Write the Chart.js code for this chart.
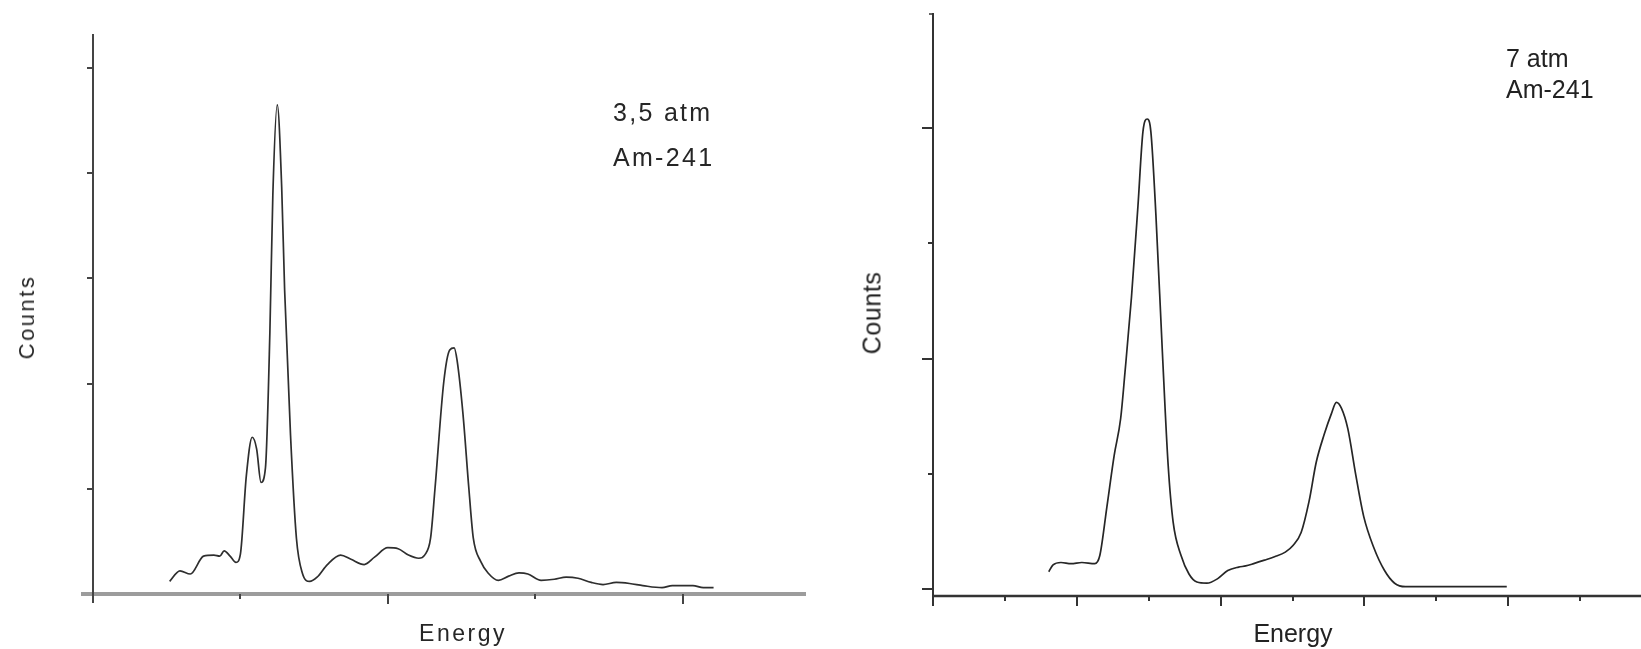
<!DOCTYPE html>
<html>
<head>
<meta charset="utf-8">
<script src="https://cdn.jsdelivr.net/npm/chart.js@4"></script>
<style>
    html, body { margin: 0; padding: 0; background: #fff; }
    #wrap { position: relative; width: 1641px; height: 649px; overflow: hidden; }
    canvas { position: absolute; top: 0; }
    .lbl { position: absolute; font-family: "Liberation Sans", Arial, sans-serif; line-height: 1; white-space: nowrap; color: #222; }
    .left { font-size: 25px; letter-spacing: 2.3px; color: #262626; }
    .right { font-size: 25px; color: #222; }
    .rot { transform: translate(-50%, -50%) rotate(-90deg); }
    .ctr { transform: translateX(-50%); }
</style>
</head>
<body>
<div id="wrap">
    <canvas id="leftChart" width="820" height="649" style="left:0"></canvas>
    <canvas id="rightChart" width="821" height="649" style="left:820px"></canvas>

    <div class="lbl left" style="left:613px; top:100px">3,5 atm</div>
    <div class="lbl left" style="left:613px; top:145px">Am-241</div>
    <div class="lbl left rot" style="left:27px; top:317px; font-size:22px; letter-spacing:2.5px">Counts</div>
    <div class="lbl left ctr" style="left:463px; top:622px; font-size:23px; letter-spacing:2.5px">Energy</div>

    <div class="lbl right" style="left:1506px; top:46px">7 atm</div>
    <div class="lbl right" style="left:1506px; top:77px">Am-241</div>
    <div class="lbl right rot" style="left:872px; top:313px; letter-spacing:0.6px">Counts</div>
    <div class="lbl right ctr" style="left:1293px; top:621px">Energy</div>
</div>

<script>
// 3,5 atm spectrum (energy in x-tick units, counts in y-tick units)
const leftEnergy = [0.52, 0.59, 0.66, 0.75, 0.82, 0.86, 0.89, 0.93, 0.97, 1.0,
    1.04, 1.08, 1.11, 1.14, 1.17, 1.2, 1.22, 1.25, 1.28, 1.3,
    1.34, 1.38, 1.42, 1.47, 1.52, 1.59, 1.68, 1.75, 1.84, 1.91,
    2.0, 2.07, 2.14, 2.21, 2.25, 2.29, 2.32, 2.38, 2.42, 2.45,
    2.47, 2.51, 2.55, 2.58, 2.63, 2.68, 2.75, 2.82, 2.89, 2.95,
    3.04, 3.13, 3.21, 3.29, 3.38, 3.46, 3.55, 3.64, 3.73, 3.86,
    3.93, 4.07, 4.14, 4.21];
const leftCounts = [0.12, 0.22, 0.19, 0.36, 0.37, 0.36, 0.41, 0.36, 0.30, 0.38,
    1.12, 1.49, 1.38, 1.06, 1.2, 2.49, 3.79, 4.65, 3.87, 2.89,
    1.51, 0.53, 0.2, 0.12, 0.16, 0.28, 0.37, 0.33, 0.28, 0.35,
    0.44, 0.43, 0.37, 0.34, 0.37, 0.53, 1.0, 2.02, 2.32, 2.34,
    2.22, 1.71, 1.0, 0.53, 0.31, 0.2, 0.13, 0.17, 0.2, 0.19,
    0.13, 0.14, 0.16, 0.15, 0.11, 0.09, 0.11, 0.1, 0.08, 0.06,
    0.08, 0.08, 0.06, 0.06];

// 7 atm spectrum
const rightEnergy = [1.61, 1.67, 1.78, 1.92, 2.07, 2.25, 2.32, 2.42, 2.52, 2.61,
    2.67, 2.76, 2.85, 2.92, 2.98, 3.03, 3.1, 3.19, 3.27, 3.34,
    3.45, 3.56, 3.67, 3.81, 3.96, 4.1, 4.25, 4.35, 4.46, 4.61,
    4.75, 4.9, 5.01, 5.12, 5.23, 5.33, 5.44, 5.54, 5.61, 5.68,
    5.77, 5.88, 5.99, 6.13, 6.28, 6.42, 6.57, 7.15, 7.98];
const rightCounts = [0.15, 0.21, 0.23, 0.22, 0.23, 0.22, 0.29, 0.72, 1.16, 1.48,
    1.88, 2.53, 3.32, 3.97, 4.08, 3.97, 3.25, 2.06, 1.08, 0.58,
    0.29, 0.13, 0.06, 0.05, 0.09, 0.16, 0.19, 0.2, 0.22, 0.25,
    0.28, 0.32, 0.38, 0.49, 0.76, 1.1, 1.34, 1.52, 1.62, 1.57,
    1.39, 0.99, 0.63, 0.36, 0.16, 0.05, 0.02, 0.02, 0.02];

// tick positions (no labels in the original)
const leftXTicks = [1, 2, 3, 4];
const leftXMajor = [2, 4];
const leftYTicks = [1, 2, 3, 4, 5];
const rightXTicks = [1, 2, 3, 4, 5, 6, 7, 8, 9];
const rightXMajor = [2, 4, 6, 8];
const rightYTicks = [0, 1, 2, 3, 4];
const rightYMajor = [0, 2, 4];

// axis lines + tick marks drawn from the chart's own scales
const axesPlugin = {
    id: 'axes',
    beforeDatasetsDraw(chart, args, o) {
        const { ctx, chartArea: a, scales: { x, y } } = chart;
        ctx.save();
        ctx.lineCap = 'butt';

        // x axis
        ctx.strokeStyle = o.xColor;
        ctx.lineWidth = o.xWidth;
        ctx.beginPath();
        ctx.moveTo(a.left - o.xExtend, a.bottom);
        ctx.lineTo(a.right, a.bottom);
        ctx.stroke();

        ctx.strokeStyle = o.color;
        ctx.lineWidth = o.tickWidth;
        o.xTicks.forEach(v => {
            const px = Math.round(x.getPixelForValue(v));
            const len = o.xMajor.includes(v) ? o.majorLen : o.minorLen;
            ctx.beginPath();
            ctx.moveTo(px, a.bottom);
            ctx.lineTo(px, a.bottom + len);
            ctx.stroke();
        });
        o.yTicks.forEach(v => {
            const py = Math.round(y.getPixelForValue(v));
            const len = o.yMajor.includes(v) ? o.yMajorLen : o.yMinorLen;
            ctx.beginPath();
            ctx.moveTo(a.left - len, py);
            ctx.lineTo(a.left, py);
            ctx.stroke();
        });

        // y axis
        ctx.lineWidth = o.yWidth;
        ctx.beginPath();
        ctx.moveTo(a.left, a.top);
        ctx.lineTo(a.left, a.bottom + o.yExtend);
        ctx.stroke();
        if (o.topCap) {
            ctx.lineWidth = 1.5;
            ctx.beginPath();
            ctx.moveTo(a.left - o.topCap, a.top + 1);
            ctx.lineTo(a.left, a.top + 1);
            ctx.stroke();
        }
        ctx.restore();
    }
};

function makeChart(id, xs, ys, xMax, yMin, yMax, padding, lineColor, axes) {
    return new Chart(document.getElementById(id), {
        type: 'line',
        data: {
            datasets: [{
                data: xs.map((v, i) => ({ x: v, y: ys[i] })),
                borderColor: lineColor,
                borderWidth: 1.7,
                pointRadius: 0,
                cubicInterpolationMode: 'monotone',
                fill: false
            }]
        },
        options: {
            responsive: false,
            animation: false,
            layout: { padding: padding },
            plugins: { legend: { display: false }, tooltip: { enabled: false }, axes: axes },
            scales: {
                x: { type: 'linear', min: 0, max: xMax, display: false },
                y: { type: 'linear', min: yMin, max: yMax, display: false }
            }
        },
        plugins: [axesPlugin]
    });
}

makeChart('leftChart', leftEnergy, leftCounts, 4.837, 0, 5.323,
    { left: 93, top: 34, right: 14, bottom: 55 }, '#2e2e2e', {
        color: '#444', xColor: '#9c9c9c', xWidth: 4, xExtend: 12,
        yWidth: 2, yExtend: 9, tickWidth: 2, topCap: 0,
        xTicks: leftXTicks, xMajor: leftXMajor, majorLen: 10, minorLen: 5,
        yTicks: leftYTicks, yMajor: leftYTicks, yMajorLen: 6, yMinorLen: 6
    });

makeChart('rightChart', rightEnergy, rightCounts, 9.847, -0.061, 5.0,
    { left: 113, top: 13, right: 0, bottom: 53 }, '#262626', {
        color: '#333', xColor: '#333', xWidth: 2.5, xExtend: 0,
        yWidth: 2, yExtend: 10, tickWidth: 2, topCap: 4,
        xTicks: rightXTicks, xMajor: rightXMajor, majorLen: 10, minorLen: 5,
        yTicks: rightYTicks, yMajor: rightYMajor, yMajorLen: 11, yMinorLen: 5
    });
</script>
</body>
</html>
